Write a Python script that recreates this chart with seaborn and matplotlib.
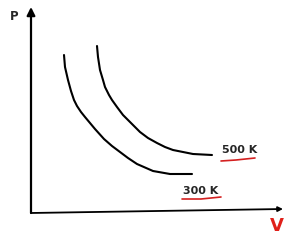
import matplotlib
matplotlib.use("Agg")
import matplotlib.pyplot as plt
import seaborn as sns
import pandas as pd

# isotherms (V, P in arbitrary units, origin at the axes corner)
v_300 = [33, 34, 37, 40, 43, 46, 50, 54, 64, 73, 81, 89, 97, 106, 122, 139, 161]
p_300 = [158, 146, 133, 122, 113, 107, 101, 96, 84, 74, 67, 61, 55, 49, 42, 39, 39]
v_500 = [66, 67, 69, 72, 74, 78, 81, 86, 92, 99, 109, 117, 126, 134, 142, 152, 162, 181]
p_500 = [167, 156, 143, 133, 126, 118, 113, 106, 98, 91, 81, 75, 70, 66, 63, 61, 59, 58]
labels = ["300 K", "500 K"]

df = pd.concat([
    pd.DataFrame({"V": v_300, "P": p_300, "T": labels[0]}),
    pd.DataFrame({"V": v_500, "P": p_500, "T": labels[1]}),
])

sns.set_style("white")
fig = plt.figure(figsize=(2.87, 2.42), dpi=100)
ax = fig.add_axes([0, 0, 1, 1])

sns.lineplot(data=df, x="V", y="P", units="T", estimator=None, sort=False,
             color="black", linewidth=1.5, ax=ax, legend=False)
for ln in ax.lines:
    ln.set_solid_joinstyle("round")
    ln.set_solid_capstyle("round")

ax.set_xlim(-31, 256)
ax.set_ylim(-29, 213)
ax.axis("off")

# axes with arrows
ax.annotate("", xy=(0, 206), xytext=(0, 0),
            arrowprops=dict(arrowstyle="-|>", color="black", lw=1.6,
                            mutation_scale=12, shrinkA=0, shrinkB=0))
ax.annotate("", xy=(252, 4), xytext=(0, 0),
            arrowprops=dict(arrowstyle="-|>", color="black", lw=1.3,
                            mutation_scale=7, shrinkA=0, shrinkB=0))

ax.text(-17, 197, "P", fontsize=8.5, fontweight="bold", ha="center", va="center")
ax.text(246, -13, "V", fontsize=13, color="#e0201a", fontweight="bold",
        ha="center", va="center")

# curve labels with red underlines
ax.text(191, 63, labels[1], fontsize=8, fontweight="bold", ha="left", va="center")
ax.plot([190, 205, 224], [52, 53, 55], color="#d42020", lw=1.2)
ax.text(152, 22, labels[0], fontsize=8, fontweight="bold", ha="left", va="center")
ax.plot([151, 170, 190], [14, 14, 16], color="#d42020", lw=1.2)

fig.savefig("out.png", dpi=100)
